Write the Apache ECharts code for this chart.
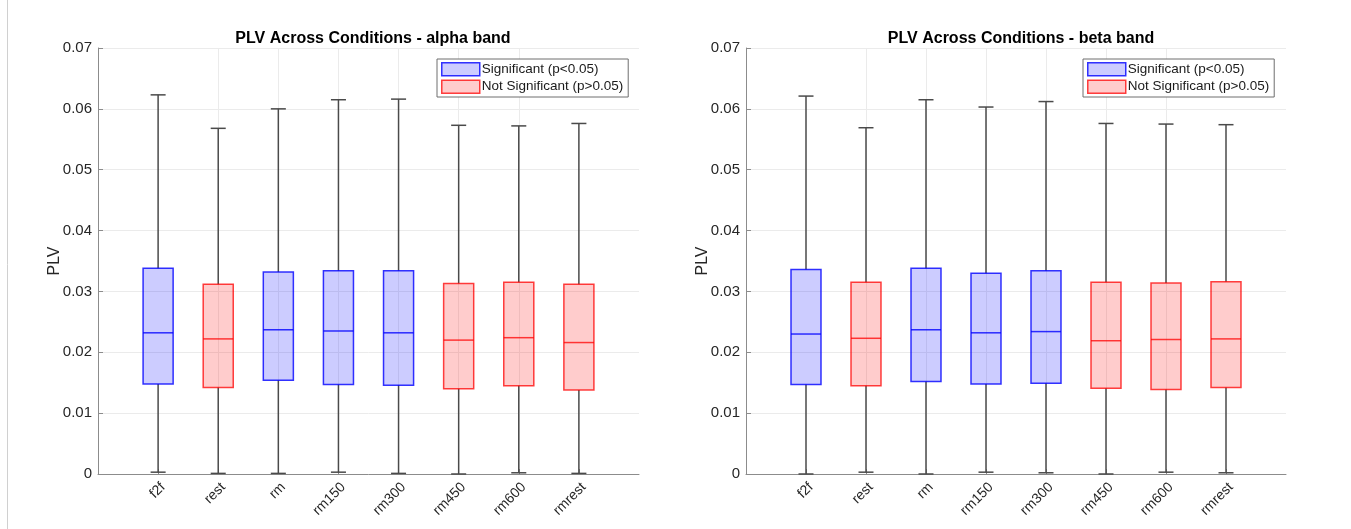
<!DOCTYPE html>
<html>
<head>
<meta charset="utf-8">
<script src="https://cdn.jsdelivr.net/npm/echarts@6/dist/echarts.min.js"></script>
<style>
html, body { margin: 0; background: #fff; }
#main { width: 1351px; height: 529px; }
</style>
</head>
<body>
<div id="main"></div>
<script>
// categories and significance (1 = p<0.05)
var conditions = ['f2f', 'rest', 'rm', 'rm150', 'rm300', 'rm450', 'rm600', 'rmrest'];
var significant = [1, 0, 1, 1, 1, 0, 0, 0];

// alpha band box stats
var alphaMin = [0.0003, 0.0001, 0.0001, 0.0003, 0.0001, 0.0000, 0.0002, 0.0001];
var alphaQ1 = [0.0148, 0.0142, 0.0154, 0.0147, 0.0146, 0.0140, 0.0145, 0.0138];
var alphaMedian = [0.0232, 0.0222, 0.0237, 0.0235, 0.0232, 0.0220, 0.0224, 0.0216];
var alphaQ3 = [0.0338, 0.0312, 0.0332, 0.0334, 0.0334, 0.0313, 0.0315, 0.0312];
var alphaMax = [0.0623, 0.0568, 0.0600, 0.0615, 0.0616, 0.0573, 0.0572, 0.0576];

// beta band box stats
var betaMin = [0.0000, 0.0003, 0.0000, 0.0003, 0.0002, 0.0000, 0.0003, 0.0002];
var betaQ1 = [0.0147, 0.0145, 0.0152, 0.0148, 0.0149, 0.0141, 0.0139, 0.0142];
var betaMedian = [0.0230, 0.0223, 0.0237, 0.0232, 0.0234, 0.0219, 0.0221, 0.0222];
var betaQ3 = [0.0336, 0.0315, 0.0338, 0.0330, 0.0334, 0.0315, 0.0314, 0.0316];
var betaMax = [0.0621, 0.0569, 0.0615, 0.0603, 0.0612, 0.0576, 0.0575, 0.0574];

var sigName = 'Significant (p<0.05)';
var nsName = 'Not Significant (p>0.05)';
var font = 'Helvetica, "Liberation Sans", Arial, sans-serif';

function boxRows(mins, q1s, meds, q3s, maxs) {
    return conditions.map(function (c, i) {
        return [i + 1, mins[i], q1s[i], meds[i], q3s[i], maxs[i], significant[i]];
    });
}

function renderBox(params, api) {
    var x = api.value(0);
    var lo = api.coord([x, api.value(1)]);
    var q1 = api.coord([x, api.value(2)]);
    var md = api.coord([x, api.value(3)]);
    var q3 = api.coord([x, api.value(4)]);
    var hi = api.coord([x, api.value(5)]);
    var unit = api.size([1, 0])[0];
    var bw = unit * 0.25, cw = unit * 0.125;
    var sig = api.value(6) === 1;
    var edge = sig ? 'rgba(0,0,255,0.8)' : 'rgba(255,0,0,0.75)';
    var fill = sig ? 'rgba(0,0,255,0.2)' : 'rgba(255,0,0,0.2)';
    var wl = {stroke: '#4a4a4a', lineWidth: 1.5};
    var cx = lo[0];
    return {
        type: 'group',
        children: [
            {type: 'line', shape: {x1: cx, y1: hi[1], x2: cx, y2: q3[1]}, style: wl},
            {type: 'line', shape: {x1: cx - cw, y1: hi[1], x2: cx + cw, y2: hi[1]}, style: wl},
            {type: 'line', shape: {x1: cx, y1: q1[1], x2: cx, y2: lo[1]}, style: wl},
            {type: 'line', shape: {x1: cx - cw, y1: lo[1], x2: cx + cw, y2: lo[1]}, style: wl},
            {type: 'rect', shape: {x: cx - bw, y: q3[1], width: bw * 2, height: q1[1] - q3[1]},
                style: {fill: fill, stroke: edge, lineWidth: 1.5}},
            {type: 'line', shape: {x1: cx - bw, y1: md[1], x2: cx + bw, y2: md[1]},
                style: {stroke: edge, lineWidth: 1.5}}
        ]
    };
}

function xAxisFor(idx) {
    return {
        type: 'value', gridIndex: idx, min: 0, max: 9, interval: 1,
        axisLine: {lineStyle: {color: '#8c8c8c', width: 1}},
        axisTick: {inside: true, length: 5, customValues: [1, 2, 3, 4, 5, 6, 7, 8], lineStyle: {color: '#8c8c8c'}},
        axisLabel: {
            customValues: [1, 2, 3, 4, 5, 6, 7, 8],
            rotate: 45, verticalAlign: 'top', color: '#262626', fontSize: 14, fontFamily: font, margin: 6,
            formatter: function (v) { return conditions[v - 1] || ''; }
        },
        splitLine: {show: true, showMinLine: false, showMaxLine: false, lineStyle: {color: '#ebebeb'}}
    };
}

function yAxisFor(idx) {
    return {
        type: 'value', gridIndex: idx, min: 0, max: 0.07, interval: 0.01,
        name: 'PLV', nameLocation: 'middle', nameGap: 35, nameRotate: 90, nameMoveOverlap: false,
        nameTextStyle: {color: '#262626', fontSize: 16, fontFamily: font},
        axisLine: {show: true, lineStyle: {color: '#8c8c8c', width: 1}},
        axisTick: {show: true, inside: true, length: 5, lineStyle: {color: '#8c8c8c'}},
        axisLabel: {
            color: '#262626', fontSize: 15, fontFamily: font, margin: 6,
            formatter: function (v) { return v === 0 ? '0' : v.toFixed(2); }
        },
        splitLine: {show: true, lineStyle: {color: '#ebebeb'}}
    };
}

function legendFor(left) {
    return {
        left: left, top: 59, orient: 'vertical',
        backgroundColor: '#fff', borderColor: '#6e6e6e', borderWidth: 1,
        padding: [3, 5, 3, 4], itemGap: 3, itemWidth: 38, itemHeight: 13,
        icon: 'rect', selectedMode: false,
        textStyle: {color: '#1a1a1a', fontSize: 13.5, fontFamily: font, padding: [0, 0, 0, -3]},
        data: [
            {name: sigName, itemStyle: {color: 'rgba(0,0,255,0.2)', borderColor: 'rgba(0,0,255,0.8)', borderWidth: 1.5}},
            {name: nsName, itemStyle: {color: 'rgba(255,0,0,0.2)', borderColor: 'rgba(255,0,0,0.75)', borderWidth: 1.5}}
        ]
    };
}

var chart = echarts.init(document.getElementById('main'));
chart.setOption({
    animation: false,
    backgroundColor: '#fff',
    title: [
        {text: 'PLV Across Conditions - alpha band', left: 368, top: 26, textAlign: 'center',
            textStyle: {fontSize: 16, fontWeight: 'bold', color: '#000', fontFamily: font}},
        {text: 'PLV Across Conditions - beta band', left: 1016, top: 26, textAlign: 'center',
            textStyle: {fontSize: 16, fontWeight: 'bold', color: '#000', fontFamily: font}}
    ],
    legend: [legendFor(437), legendFor(1083)],
    grid: [
        {left: 98, top: 48, width: 541, height: 426},
        {left: 746, top: 48, width: 540, height: 426}
    ],
    xAxis: [xAxisFor(0), xAxisFor(1)],
    yAxis: [yAxisFor(0), yAxisFor(1)],
    graphic: [{type: 'line', shape: {x1: 7.5, y1: 0, x2: 7.5, y2: 529}, style: {stroke: '#d0d0d0', lineWidth: 1}, silent: true}],
    series: [
        {type: 'custom', name: 'alpha', xAxisIndex: 0, yAxisIndex: 0, renderItem: renderBox,
            encode: {x: 0, y: [1, 5]}, data: boxRows(alphaMin, alphaQ1, alphaMedian, alphaQ3, alphaMax)},
        {type: 'custom', name: 'beta', xAxisIndex: 1, yAxisIndex: 1, renderItem: renderBox,
            encode: {x: 0, y: [1, 5]}, data: boxRows(betaMin, betaQ1, betaMedian, betaQ3, betaMax)},
        {type: 'bar', name: sigName, xAxisIndex: 0, yAxisIndex: 0, data: []},
        {type: 'bar', name: nsName, xAxisIndex: 0, yAxisIndex: 0, data: []}
    ]
});
</script>
</body>
</html>
